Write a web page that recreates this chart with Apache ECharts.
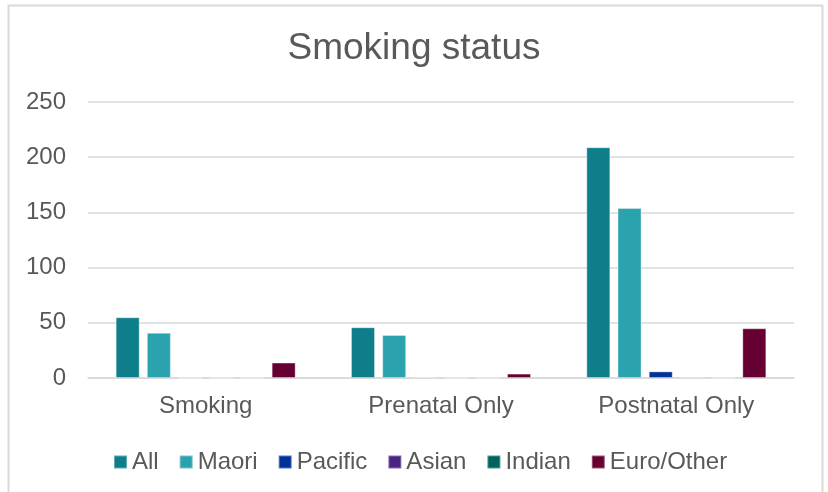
<!DOCTYPE html>
<html><head><meta charset="utf-8">
<script src="https://cdn.jsdelivr.net/npm/echarts@6/dist/echarts.min.js"></script>
<style>html,body{margin:0;padding:0;background:#fff}#c{width:828px;height:492px}</style>
</head><body><div id="c"></div>
<script>
const categories = ['Smoking', 'Prenatal Only', 'Postnatal Only'];
const yTicks = [0, 50, 100, 150, 200, 250];
const seriesNames = ['All', 'Maori', 'Pacific', 'Asian', 'Indian', 'Euro/Other'];
const seriesColors = ['#0E7F8A', '#2AA3AE', '#003399', '#4B2382', '#00635E', '#660033'];
const allVals = [55, 46, 209];
const maoriVals = [41, 39, 154];
const pacificVals = [0, 1, 6];
const asianVals = [0, 0, 1];
const indianVals = [0, 0, 0];
const euroVals = [14, 4, 45];
const values = [allVals, maoriVals, pacificVals, asianVals, indianVals, euroVals];

const regular = "'Liberation Sans', Arial, sans-serif";
const chart = echarts.init(document.getElementById('c'));
chart.setOption({
  animation: false,
  backgroundColor: '#fff',
  title: { text: 'Smoking status', left: 'center', top: 25, textStyle: { fontFamily: regular, fontSize: 37, fontWeight: 'normal', color: '#595959' } },
  graphic: [{ type: 'rect', shape: { x: 8.5, y: 5.5, width: 814, height: 500 }, style: { fill: 'none', stroke: '#D9D9D9', lineWidth: 2 }, z: -1 }],
  legend: {
    top: 445, left: 108, itemWidth: 13, itemHeight: 13, itemGap: 20, icon: 'rect',
    textStyle: { fontFamily: regular, fontSize: 24, color: '#595959' },
    data: seriesNames
  },
  grid: { left: 88, right: 34, top: 102, bottom: 114 },
  xAxis: {
    type: 'category', data: categories,
    axisLine: { lineStyle: { color: '#D9D9D9', width: 1.5 } },
    axisTick: { show: false },
    axisLabel: { fontFamily: regular, fontSize: 24, color: '#595959', margin: 16 }
  },
  yAxis: {
    type: 'value', min: yTicks[0], max: yTicks[yTicks.length - 1], interval: 50,
    axisLine: { show: false }, axisTick: { show: false },
    splitLine: { lineStyle: { color: '#D9D9D9', width: 1.5 } },
    axisLabel: { fontFamily: regular, fontSize: 24, color: '#595959', margin: 22 }
  },
  series: seriesNames.map((n, i) => ({
    name: n, type: 'bar', data: values[i], barWidth: 24, barGap: '30%',
    itemStyle: { color: seriesColors[i], borderColor: 'rgba(255,255,255,0.35)', borderWidth: 1 }
  }))
});
</script></body></html>
